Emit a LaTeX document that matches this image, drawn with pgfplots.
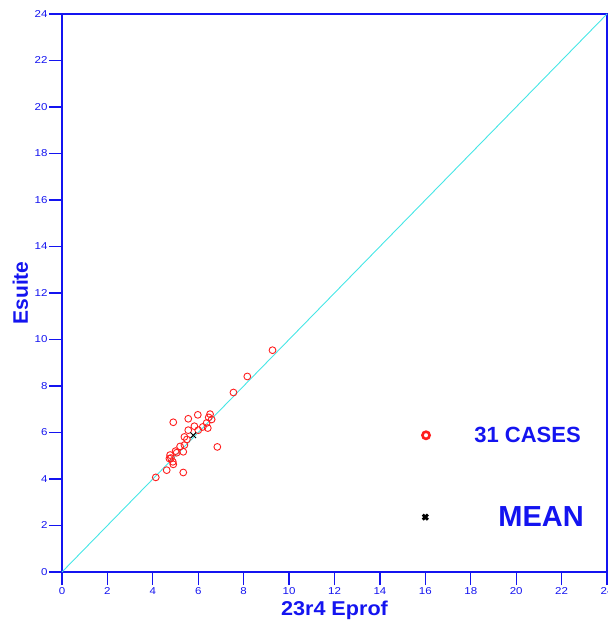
\documentclass[border=0pt]{standalone}
\usepackage{fontspec}
\setmainfont{Liberation Sans}
\newfontfamily\tickfont[FakeStretch=1.15]{Liberation Sans}
\newfontfamily\xlabfont[FakeStretch=1.08]{Liberation Sans}
\usepackage{pgfplots}
\pgfplotsset{compat=1.18}
\definecolor{pblue}{RGB}{20,20,240}
\definecolor{pcyan}{RGB}{70,230,230}
\definecolor{pred}{RGB}{255,30,30}
\begin{document}
\begin{tikzpicture}
\begin{axis}[
  scale only axis,
  width=545pt, height=558pt,
  xmin=0, xmax=24, ymin=0, ymax=24,
  xtick={0,2,...,24}, ytick={0,2,...,24},
  tick pos=left, tick align=outside,
  major tick length=13pt,
  axis line style={pblue, line width=1.3pt},
  every tick/.style={pblue, line width=1.3pt},
  tick label style={font=\tickfont\fontsize{10}{10}\selectfont, text=pblue},
  /pgf/number format/assume math mode=true,
  xticklabel style={yshift=1pt},
  yticklabel style={xshift=2pt},
  xlabel={\xlabfont\bfseries\fontsize{20}{20}\selectfont 23r4 Eprof},
  ylabel={\bfseries\fontsize{21}{21}\selectfont Esuite},
  xlabel style={text=pblue, at={(axis description cs:0.5,-0.0771)}, anchor=base},
  ylabel style={text=pblue, at={(axis description cs:-0.0627,0.5)}, anchor=base, rotate=0},
  clip=false,
]
\addplot[pcyan, line width=0.9pt] coordinates {(0,0) (24,24)};
\addplot[only marks, mark=o, mark size=3.4pt, pred, mark options={line width=0.9pt}] coordinates {
(9.27,9.54) (8.16,8.41) (7.55,7.72) (4.90,6.44) (5.56,6.59) (5.98,6.76)
(6.52,6.79) (6.46,6.65) (6.59,6.56) (6.37,6.41) (6.20,6.24) (6.42,6.19)
(5.83,6.27) (5.56,6.10) (6.00,6.10) (5.39,5.81) (6.84,5.38) (5.39,5.46)
(5.34,5.17) (5.05,5.13) (4.76,5.03) (4.73,4.88) (4.88,4.74) (4.90,4.63)
(4.61,4.38) (5.34,4.28) (4.13,4.07) (5.00,5.20) (5.20,5.40) (5.50,5.70)
(4.80,4.90)
};
\addplot[only marks, mark=x, mark size=4pt, black, mark options={line width=1pt}] coordinates {(5.78,5.88)};
% legend markers
\addplot[only marks, mark=o, mark size=3.6pt, pred, mark options={line width=2.6pt}] coordinates {(16.03,5.88)};
\addplot[only marks, mark=x, mark size=3.6pt, black, mark options={line width=2.8pt}] coordinates {(16.0,2.36)};
\node[text=pblue, font=\bfseries\fontsize{22}{22}\selectfont] at (axis cs:20.5,5.9) {31 CASES};
\node[text=pblue, font=\bfseries\fontsize{29}{29}\selectfont] at (axis cs:21.1,2.4) {MEAN};
\end{axis}
\pgfresetboundingbox
\useasboundingbox (-62pt,-51pt) rectangle (545pt,572pt);
\end{tikzpicture}
\end{document}
